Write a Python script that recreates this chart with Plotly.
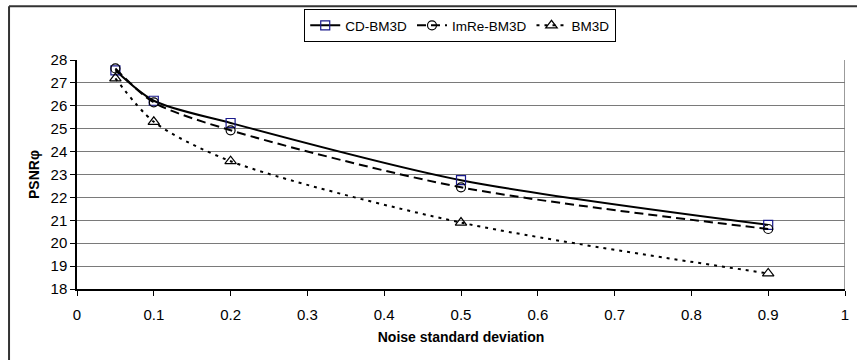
import plotly.graph_objects as go

noise = [0.05, 0.1, 0.2, 0.5, 0.9]
cd_bm3d = [27.55, 26.22, 25.25, 22.75, 20.8]
imre_bm3d = [27.63, 26.15, 24.93, 22.44, 20.62]
bm3d = [27.2, 25.3, 23.58, 20.9, 18.68]
x_ticks = [0, 0.1, 0.2, 0.3, 0.4, 0.5, 0.6, 0.7, 0.8, 0.9, 1]
y_ticks = list(range(18, 29))

fig = go.Figure()
fig.add_trace(go.Scatter(x=noise, y=cd_bm3d, name="CD-BM3D", mode="lines+markers",
                         line=dict(color="black", width=2, shape="spline", smoothing=0.8),
                         marker=dict(symbol="square-open", size=9, color="#1a1a8c", line=dict(width=1.2))))
fig.add_trace(go.Scatter(x=noise, y=imre_bm3d, name="ImRe-BM3D", mode="lines+markers",
                         line=dict(color="black", width=2, dash="9px,5px", shape="spline", smoothing=0.8),
                         marker=dict(symbol="circle-open", size=9, color="black", line=dict(width=1.2))))
fig.add_trace(go.Scatter(x=noise, y=bm3d, name="BM3D", mode="lines+markers",
                         line=dict(color="black", width=2, dash="3px,5px", shape="spline", smoothing=0.8),
                         marker=dict(symbol="triangle-up-open", size=10, color="black", line=dict(width=1.2))))

font = "Liberation Sans, Arial, sans-serif"
fig.update_layout(
    width=857, height=360,
    margin=dict(l=77, r=12, t=60, b=71, autoexpand=False),
    paper_bgcolor="white", plot_bgcolor="white",
    font=dict(family=font, size=15, color="black"),
    showlegend=True,
    legend=dict(orientation="h", x=0.499, xanchor="center", y=0.975, yanchor="top",
                yref="container", bordercolor="black", borderwidth=1, bgcolor="white",
                font=dict(size=13.5), itemwidth=30, tracegroupgap=0),
    xaxis=dict(range=[0, 1], tickvals=x_ticks, ticktext=[str(v) for v in x_ticks],
               showgrid=False, zeroline=False, showline=True, linecolor="black", linewidth=1.5,
               ticks="outside", ticklen=5, tickcolor="black", tickfont=dict(size=15),
               ticklabelstandoff=6, automargin=False,
               title=dict(text="<b>Noise standard deviation</b>", font=dict(size=14), standoff=10)),
    yaxis=dict(range=[18, 28], tickvals=y_ticks, showgrid=True, gridcolor="#7a7a7a", gridwidth=1.2,
               zeroline=False, showline=True, linecolor="black", linewidth=1.5,
               ticks="outside", ticklen=5, tickcolor="black", tickfont=dict(size=15),
               automargin=False,
               title=dict(text="<b>PSNRφ</b>", font=dict(size=14), standoff=8)),
    shapes=[
        dict(type="line", xref="x", yref="y", x0=1, x1=1, y0=18, y1=28,
             line=dict(color="#7a7a7a", width=1.5)),
        dict(type="line", xref="paper", yref="paper", x0=-0.0885, x1=1.02, y0=1.235, y1=1.235,
             line=dict(color="#333333", width=2)),
        dict(type="line", xref="paper", yref="paper", x0=-0.0885, x1=-0.0885, y0=1.235, y1=-0.35,
             line=dict(color="#333333", width=2)),
    ],
)

fig.write_html("out.html")
